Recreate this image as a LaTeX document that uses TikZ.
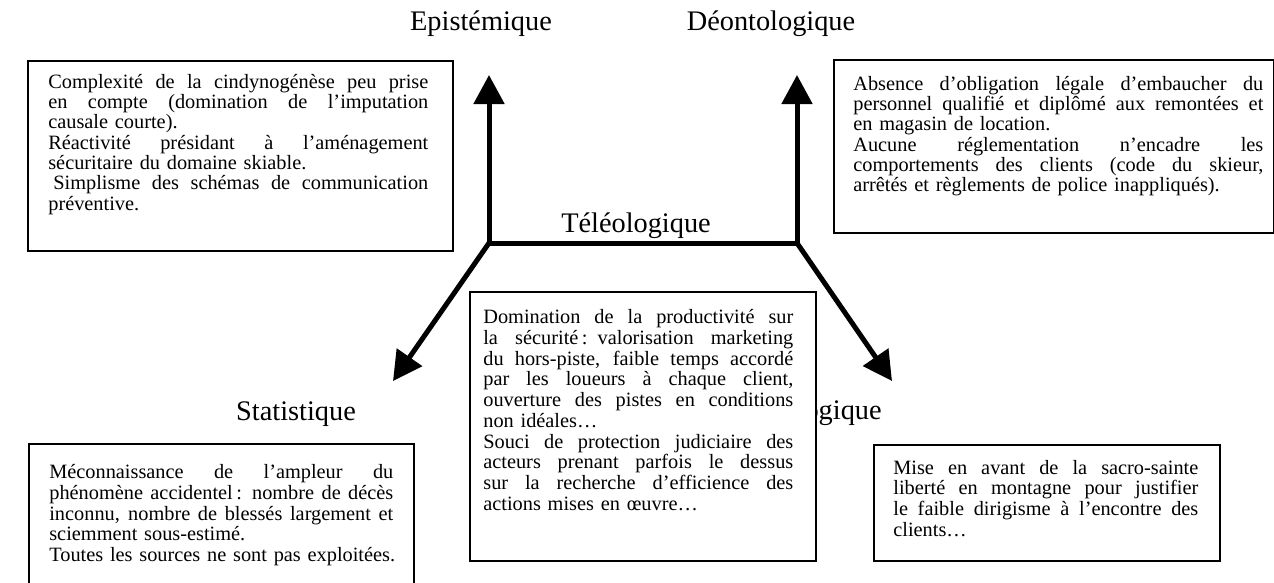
\documentclass[tikz,border=0pt]{standalone}
\usepackage{fontspec}
\setmainfont{Liberation Serif}
\usetikzlibrary{arrows.meta}
\newcommand\jl[2]{\leavevmode\hbox to #1{\spaceskip=0.25em plus 1fil\relax #2}}
\newcommand\fst{\rule{0pt}{10pt}}
\newcommand\bxfont{\fontsize{12.2}{12.2}\selectfont}
\newcommand\bxfontb{\fontsize{12.2}{12.45}\selectfont}
\newcommand\ttlfont{\fontsize{17}{20}\selectfont}
\begin{document}
\begin{tikzpicture}[x=0.6pt,y=-0.6pt,
  frame/.style={draw, line width=1pt, fill=white, anchor=north west, inner sep=0pt},
  txt/.style={anchor=north west, inner sep=0pt, align=left, font=\bxfont},
  txtb/.style={txt, font=\bxfontb},
  axlabel/.style={anchor=base, inner sep=0pt, font=\ttlfont},
  axisline/.style={line width=3pt, line join=miter},
  tipped/.style={-{Triangle[length=17.4pt,width=18pt]}}
]
\useasboundingbox (0,0) rectangle (1274,582);
\begin{scope}
\clip (0,0) rectangle (1274,582);

% axis labels
\node[axlabel] (lE) at (481,30) {Epistémique};
\node[axlabel] (lD) at (771,30) {Déontologique};
\node[axlabel] (lT) at (636,232) {Téléologique};
\node[axlabel] (lS) at (296,420) {Statistique};
\node[axlabel, anchor=base east] (lA) at (882,419) {Axiologique};

% connectors
\coordinate (cL) at (489,243);
\coordinate (cR) at (797,243);
\coordinate (tE) at (489,75);
\coordinate (tD) at (797,75);
\coordinate (tS) at (393,381);
\coordinate (tA) at (892,381);
\draw[axisline, {Triangle[length=17.4pt,width=18pt]}-{Triangle[length=17.4pt,width=18pt]}] (tE) -- (cL) -- (cR) -- (tD);
\draw[axisline, tipped] (cL) -- (tS);
\draw[axisline, tipped] (cR) -- (tA);

% box 1
\node[frame, minimum width=255pt, minimum height=114pt] (b1) at (27,60) {};
\node[txt, text width=228pt] (t1) at (48,71) {\fst\jl{228pt}{Complexité de la cindynogénèse peu prise}\\
\jl{228pt}{en compte (domination de l’imputation}\\
\mbox{causale courte).}\\
\jl{228pt}{Réactivité présidant à l’aménagement}\\
\mbox{sécuritaire du domaine skiable.}\\
\jl{228pt}{\hspace{3pt}Simplisme des schémas de communication}\\
\mbox{préventive.}};

% box 2
\node[frame, minimum width=264pt, minimum height=103.8pt] (b2) at (833,59) {};
\node[txt, text width=246pt] (t2) at (853,73.3) {\fst\jl{246pt}{Absence d’obligation légale d’embaucher du}\\
\jl{246pt}{personnel qualifié et diplômé aux remontées et}\\
\mbox{en magasin de location.}\\
\jl{246pt}{Aucune réglementation n’encadre les}\\
\jl{246pt}{comportements des clients (code du skieur,}\\
\mbox{arrêtés et règlements de police inappliqués).}};

% central box
\node[frame, minimum width=207.6pt, minimum height=161.4pt] (bc) at (469,291) {};
\node[txtb, text width=186pt] (tc) at (483,306.5) {\fst\jl{186pt}{Domination de la productivité sur}\\
\jl{186pt}{la sécurité\,: valorisation marketing}\\
\jl{186pt}{du hors-piste, faible temps accordé}\\
\jl{186pt}{par les loueurs à chaque client,}\\
\jl{186pt}{ouverture des pistes en conditions}\\
\mbox{non idéales…}\\
\jl{186pt}{Souci de protection judiciaire des}\\
\jl{186pt}{acteurs prenant parfois le dessus}\\
\jl{186pt}{sur la recherche d’efficience des}\\
\mbox{actions mises en œuvre…}};

% box 4
\node[frame, minimum width=231pt, minimum height=94.2pt] (b4) at (28,443) {};
\node[txtb, text width=206.4pt] (t4) at (49,461.5) {\fst\jl{206.4pt}{Méconnaissance de l’ampleur du}\\
\jl{206.4pt}{phénomène accidentel\,: nombre de décès}\\
\jl{206.4pt}{inconnu, nombre de blessés largement et}\\
\mbox{sciemment sous-estimé.}\\
\mbox{Toutes les sources ne sont pas exploitées.}};

% box 5
\node[frame, minimum width=207.6pt, minimum height=69.6pt] (b5) at (873,444) {};
\node[txtb, text width=183pt] (t5) at (893,457) {\fst\jl{183pt}{Mise en avant de la sacro-sainte}\\
\jl{183pt}{liberté en montagne pour justifier}\\
\jl{183pt}{le faible dirigisme à l’encontre des}\\
\mbox{clients…}};
\end{scope}
\end{tikzpicture}
\end{document}
